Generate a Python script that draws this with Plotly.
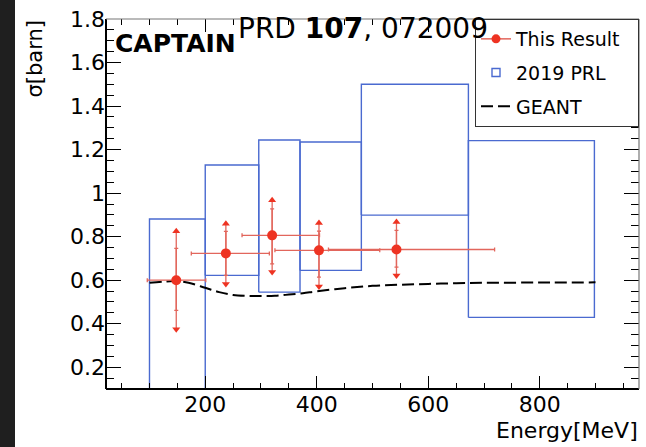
import plotly.graph_objects as go

# ---------------- data ----------------
# This Result (points with asymmetric errors)
res_x = [148, 237, 320, 404, 543]
res_xlo = [52, 62, 54, 79, 122]
res_xhi = [53, 78, 85, 109, 176]
res_y = [0.600, 0.723, 0.806, 0.737, 0.741]
res_stat_hi = [0.146, 0.101, 0.122, 0.088, 0.088]
res_stat_lo = [0.139, 0.101, 0.131, 0.123, 0.081]
res_tot_hi = [0.225, 0.136, 0.161, 0.126, 0.126]
res_tot_lo = [0.225, 0.140, 0.169, 0.166, 0.119]

# 2019 PRL (boxes)
prl_lo_e = [100, 200, 296, 370, 480, 672]
prl_hi_e = [200, 296, 370, 480, 672, 898]
prl_lo_s = [0.0, 0.622, 0.545, 0.645, 0.899, 0.429]
prl_hi_s = [0.881, 1.129, 1.244, 1.235, 1.500, 1.241]

# GEANT prediction
geant_x = [100, 125, 145, 170, 200, 225, 250, 275, 300, 325, 350, 375, 400,
           450, 500, 550, 600, 650, 700, 800, 900]
geant_y = [0.588, 0.593, 0.596, 0.588, 0.565, 0.545, 0.532, 0.528, 0.527,
           0.528, 0.534, 0.540, 0.549, 0.563, 0.574, 0.579, 0.583, 0.586,
           0.588, 0.589, 0.590]

x_tick_vals = [200, 400, 600, 800]
x_tick_labels = ["200", "400", "600", "800"]
y_tick_vals = [0.2, 0.4, 0.6, 0.8, 1.0, 1.2, 1.4, 1.6, 1.8]
y_tick_labels = ["0.2", "0.4", "0.6", "0.8", "1", "1.2", "1.4", "1.6", "1.8"]

# ---------------- style ----------------
FONT = "DejaVu Sans"
RED = "#ee3322"
ERR = "#e2665c"
BLUE = "#4a6ad0"
PAD = "\u00a0\u00a0"

W, H = 646, 447
ML, MR, MT, MB = 106, 7, 19, 58
PW, PH = W - ML - MR, H - MT - MB


def px_x(p):
    return (p - ML) / PW


def px_y(p):
    return 1 - (p - MT) / PH


fig = go.Figure()

# PRL boxes
for lo_e, hi_e, lo_s, hi_s in zip(prl_lo_e, prl_hi_e, prl_lo_s, prl_hi_s):
    fig.add_trace(go.Scatter(
        x=[lo_e, hi_e, hi_e, lo_e, lo_e],
        y=[lo_s, lo_s, hi_s, hi_s, lo_s],
        mode="lines", line=dict(color=BLUE, width=1.4),
        showlegend=False, hoverinfo="skip"))

# GEANT
fig.add_trace(go.Scatter(
    x=geant_x, y=geant_y, mode="lines", name="GEANT" + PAD, legendgroup="c",
    line=dict(color="black", width=2, dash="12px,5px", shape="spline"),
    legendrank=3))

# total errors (vertical no caps) + horizontal errors with caps
fig.add_trace(go.Scatter(
    x=res_x, y=res_y, mode="markers", marker=dict(size=1, color="rgba(0,0,0,0)"),
    error_x=dict(type="data", symmetric=False, array=res_xhi, arrayminus=res_xlo,
                 color=ERR, thickness=1.3, width=2),
    error_y=dict(type="data", symmetric=False, array=res_tot_hi, arrayminus=res_tot_lo,
                 color=ERR, thickness=1.3, width=0),
    showlegend=False, hoverinfo="skip"))

# statistical errors with small caps
fig.add_trace(go.Scatter(
    x=res_x, y=res_y, mode="markers", marker=dict(size=1, color="rgba(0,0,0,0)"),
    error_y=dict(type="data", symmetric=False, array=res_stat_hi, arrayminus=res_stat_lo,
                 color=ERR, thickness=1.3, width=2),
    showlegend=False, hoverinfo="skip"))

# arrow heads at ends of total errors
fig.add_trace(go.Scatter(
    x=res_x, y=[v + e for v, e in zip(res_y, res_tot_hi)], mode="markers",
    marker=dict(symbol="triangle-up", size=7, color=RED),
    showlegend=False, hoverinfo="skip"))
fig.add_trace(go.Scatter(
    x=res_x, y=[v - e for v, e in zip(res_y, res_tot_lo)], mode="markers",
    marker=dict(symbol="triangle-down", size=7, color=RED),
    showlegend=False, hoverinfo="skip"))

# central points
fig.add_trace(go.Scatter(
    x=res_x, y=res_y, mode="markers", marker=dict(size=10, color=RED),
    showlegend=False))

# legend-only entries
fig.add_trace(go.Scatter(
    x=[None], y=[None], mode="lines+markers", name="This Result" + PAD, legendgroup="a",
    line=dict(color=ERR, width=1.5), marker=dict(size=9, color=RED),
    legendrank=1))
fig.add_trace(go.Scatter(
    x=[None], y=[None], mode="markers", name="2019 PRL" + PAD, legendgroup="b",
    marker=dict(symbol="square-open", size=8, color=BLUE, line=dict(width=1.4)),
    legendrank=2))

axis_common = dict(
    showgrid=False, zeroline=False, showline=False,
    ticks="inside", mirror="ticks", tickcolor="black", tickwidth=1.3,
    tickfont=dict(family=FONT, size=22, color="black"),
)

fig.update_xaxes(
    range=[22, 978], tickmode="array", tickvals=x_tick_vals, ticktext=x_tick_labels,
    ticklen=13,
    minor=dict(dtick=50, tick0=0, ticklen=6, ticks="inside", tickcolor="black", tickwidth=1.2),
    **axis_common)
fig.update_yaxes(
    range=[0.1, 1.8], tickmode="array", tickvals=y_tick_vals, ticktext=y_tick_labels,
    ticklen=15,
    minor=dict(dtick=0.05, tick0=0, ticklen=8, ticks="inside", tickcolor="black", tickwidth=1.2),
    **axis_common)

shapes = [
    # frame
    dict(type="line", xref="paper", yref="paper", x0=0, x1=0, y0=0, y1=1,
         line=dict(color="black", width=2)),
    dict(type="line", xref="paper", yref="paper", x0=0, x1=1, y0=0, y1=0,
         line=dict(color="black", width=2)),
    dict(type="line", xref="paper", yref="paper", x0=0, x1=1, y0=1, y1=1,
         line=dict(color="#777777", width=1.2)),
    dict(type="line", xref="paper", yref="paper", x0=1, x1=1, y0=0, y1=1,
         line=dict(color="#777777", width=1.2)),
    # dark strip on the left edge of the screenshot
    dict(type="rect", xref="paper", yref="paper", x0=px_x(0), x1=px_x(15),
         y0=px_y(H), y1=px_y(0), fillcolor="#1f1f1f", line=dict(width=0),
         layer="below"),
]

annotations = [
    dict(text="PRD <b>107</b>, 072009", xref="paper", yref="paper",
         x=px_x(236), y=px_y(29), xanchor="left", yanchor="middle",
         showarrow=False, font=dict(family=FONT, size=28, color="black")),
    dict(text="<b>CAPTAIN</b>", xref="paper", yref="paper",
         x=px_x(113), y=px_y(43), xanchor="left", yanchor="middle",
         showarrow=False, font=dict(family=FONT, size=25, color="black")),
    dict(text="σ[barn]", xref="paper", yref="paper", textangle=-90,
         x=px_x(34), y=px_y(19), xanchor="center", yanchor="top",
         showarrow=False, font=dict(family=FONT, size=21, color="black")),
    dict(text="Energy[MeV]", xref="paper", yref="paper",
         x=px_x(640), y=px_y(430), xanchor="right", yanchor="middle",
         showarrow=False, font=dict(family=FONT, size=22, color="black")),
]

fig.update_layout(
    width=W, height=H,
    margin=dict(l=ML, r=MR, t=MT, b=MB),
    paper_bgcolor="white", plot_bgcolor="white",
    shapes=shapes, annotations=annotations,
    legend=dict(x=1, y=1, xanchor="right", yanchor="top",
                bgcolor="white", bordercolor="#333333", borderwidth=1,
                font=dict(family=FONT, size=19, color="black"),
                traceorder="grouped", tracegroupgap=6, itemwidth=30),
)

fig.write_html("out.html", config={"displayModeBar": False},
               post_script="document.body.style.margin='0';"
                           "document.body.style.overflow='hidden';")
